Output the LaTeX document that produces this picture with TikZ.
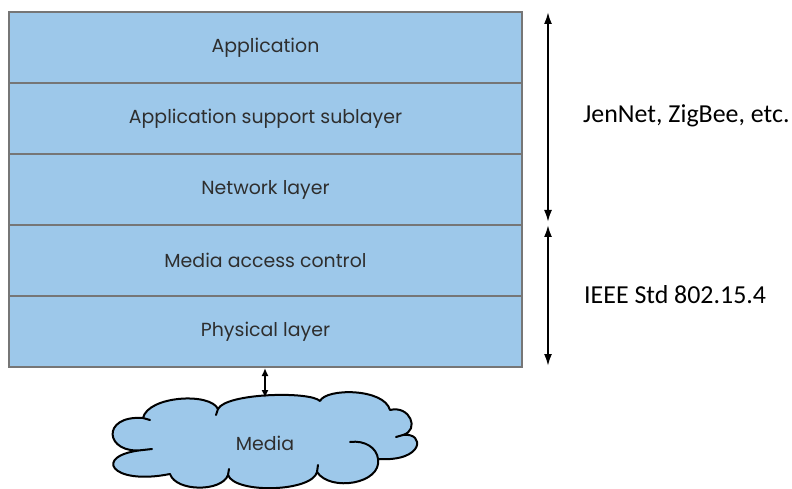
\documentclass[tikz,border=0pt]{standalone}
\usepackage{fontspec}
\setmainfont{Carlito}
\newfontfamily\layerfont{Poppins}
\usetikzlibrary{arrows.meta}
\definecolor{layerblue}{HTML}{9DC8EA}
\definecolor{layeredge}{HTML}{767676}
\definecolor{layertext}{HTML}{2E2E2E}
\tikzset{
  layer/.style={draw=layeredge, line width=2bp, fill=layerblue,
    minimum width=513bp, minimum height=71bp, inner sep=0pt,
    font=\layerfont\fontsize{19}{22}\selectfont, text=layertext},
  span/.style={line width=2bp, {Latex[length=12bp,width=8bp]}-{Latex[length=12bp,width=8bp]}},
  stdlabel/.style={anchor=west, font=\fontsize{26}{30}\selectfont, inner sep=0pt},
  cloudline/.style={draw=black, line width=2bp, line join=round, line cap=round},
}
\begin{document}
\begin{tikzpicture}[x=1bp,y=-1bp]
\useasboundingbox (0,0) rectangle (792,489);
\begin{scope}
\clip (0,0) rectangle (792,489);
% protocol stack
\node[layer] (app)  at (265.5,47.5)  {Application};
\node[layer] (aps)  at (265.5,118.5) {Application support sublayer};
\node[layer] (nwk)  at (265.5,189.5) {Network layer};
\node[layer] (mac)  at (265.5,260.5) {Media access control};
\node[layer] (phy)  at (265.5,331.5) {Physical layer};
% transmission medium: a cloud built from bumps between cusps
\path[cloudline, fill=layerblue]
  (143,418) .. controls +(5,-22)  and +(-8,-17) .. (218,409)
            .. controls +(8,-16)  and +(-10,-10) .. (320,401)
            .. controls +(6,-13)  and +(-6,-22) .. (390,410)
            .. controls +(20,-5)  and +(17,-5)  .. (403,435)
            .. controls +(22,-3)  and +(47,3)   .. (378,459)
            .. controls +(4,25)   and +(13,20)  .. (317,472)
            .. controls +(-5,20)  and +(7,19)   .. (228,475)
            .. controls +(-6,17)  and +(6,18)   .. (170,474)
            .. controls +(-60,12) and +(-51,5)  .. (143,450)
            .. controls +(-38,5)  and +(-43,-3) .. (143,418) -- cycle;
% inner strokes where the bumps overlap
\draw[cloudline] (218,409) -- (216,415);
\draw[cloudline] (403,435) -- (396,437);
\draw[cloudline] (350,442) .. controls (365,440) and (377,448) .. (378,459);
\draw[cloudline] (317,472) -- (318,465);
\draw[cloudline] (228,475) -- (229,469);
\draw[cloudline] (143,450) -- (152,449);
\draw[cloudline] (143,418) -- (150,420);
\node[font=\layerfont\fontsize{19}{22}\selectfont, text=layertext] (media) at (265,443) {Media};
\end{scope}
% link between physical layer and medium
\coordinate (mtop) at (265,398);
\draw[line width=1.8bp, {Latex[length=8bp,width=7bp]}-{Latex[length=8bp,width=7bp]}] (phy.south -| mtop) -- (mtop);
% standard ranges
\coordinate (r0) at (548,12);
\coordinate (r1) at (548,222);
\coordinate (r2) at (548,225);
\coordinate (r3) at (548,366);
\draw[span] (r0) -- (r1);
\draw[span] (r2) -- (r3);
\node[stdlabel] (zig)  at (583,116) {JenNet, ZigBee, etc.};
\node[stdlabel] (ieee) at (584,295) {IEEE Std 802.15.4};
\end{tikzpicture}
\end{document}
